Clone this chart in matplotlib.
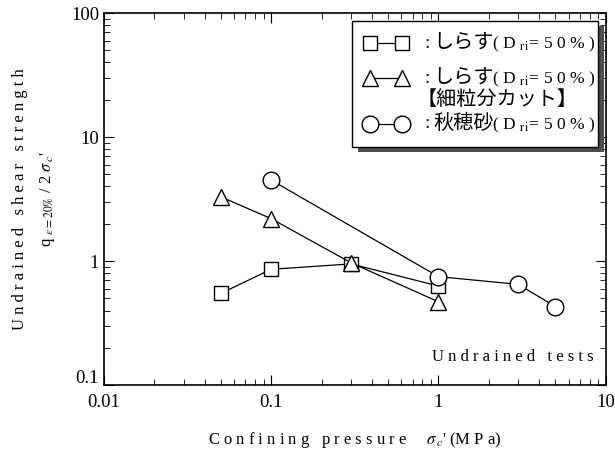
import matplotlib
matplotlib.use("Agg")
import matplotlib.pyplot as plt
import matplotlib.transforms as mtransforms
from matplotlib.patches import Rectangle
from matplotlib.ticker import LogLocator, NullFormatter, FixedLocator, FixedFormatter

plt.rcParams['font.family'] = ['Liberation Serif', 'Noto Sans CJK JP']
plt.rcParams['mathtext.fontset'] = 'stix'

# data
sq_x = [0.05, 0.1, 0.3, 1.0]
sq_y = [0.55, 0.86, 0.95, 0.63]
tri_x = [0.05, 0.1, 0.3, 1.0]
tri_y = [3.3, 2.2, 0.97, 0.47]
cir_x = [0.1, 1.0, 3.0, 5.0]
cir_y = [4.5, 0.75, 0.65, 0.43]

names = ["しらす", "しらす", "秋穂砂"]
note = "【細粒分カット】"
dr_text = r"( D $_{\mathrm{r\,i}}$= 5 0 % )"
xticks = [0.01, 0.1, 1, 10]
yticks = [0.1, 1, 10, 100]

fig = plt.figure(figsize=(6.15, 4.5), dpi=100)
ax = fig.add_axes([0.169, 0.144, 0.816, 0.827])

style = dict(color='black', lw=0.9, mfc='white', mec='black', mew=1.0)
l_sq, = ax.plot(sq_x, sq_y, marker='s', ms=10, **style)
l_tri, = ax.plot(tri_x, tri_y, marker='^', ms=11, **style)
l_cir, = ax.plot(cir_x, cir_y, marker='o', ms=12, **style)

ax.set_xscale('log')
ax.set_yscale('log')
ax.set_xlim(0.01, 10)
ax.set_ylim(0.1, 100)
ax.xaxis.set_major_locator(FixedLocator(xticks))
ax.xaxis.set_major_formatter(FixedFormatter([str(t) for t in xticks]))
ax.yaxis.set_major_locator(FixedLocator(yticks))
ax.yaxis.set_major_formatter(FixedFormatter([str(t) for t in yticks]))
for a in (ax.xaxis, ax.yaxis):
    a.set_minor_locator(LogLocator(base=10, subs=range(2, 10)))
    a.set_minor_formatter(NullFormatter())
ax.tick_params(which='both', direction='in', top=True, right=True, labelsize=13.5)
ax.tick_params(which='major', length=7)
ax.tick_params(which='minor', length=4)
ax.tick_params(axis='x', pad=6)
for s in ax.spines.values():
    s.set_linewidth(1.2)

# lift the bottom y label a little, as in the original
fig.canvas.draw()
lab = ax.yaxis.get_majorticklabels()[0]
lab.set_transform(lab.get_transform() +
                  mtransforms.ScaledTranslation(0, 6 / 72, fig.dpi_scale_trans))

ax.set_xlabel("C o n f i n i n g   p r e s s u r e     $\\sigma_{\\,c}$' (M P a)",
              fontsize=12, labelpad=14)
ax.set_ylabel("U n d r a i n e d   s h e a r   s t r e n g t h\n"
              "q $_{\\varepsilon=20\\%}$ / 2 $\\sigma_{\\,c}$'",
              fontsize=12, labelpad=10, linespacing=1.8)

ax.text(0.975, 0.075, "U n d r a i n e d   t e s t s", transform=ax.transAxes,
        ha='right', va='center', fontsize=12)

# legend box with dark shadow
bx0, bx1, by0, by1 = 0.494, 0.984, 0.640, 0.978
ax.add_patch(Rectangle((bx0 + 0.012, by0 - 0.014), bx1 - bx0, by1 - by0,
                       transform=ax.transAxes, facecolor='0.3', edgecolor='none',
                       zorder=5, clip_on=False))
ax.add_patch(Rectangle((bx0, by0), bx1 - bx0, by1 - by0, transform=ax.transAxes,
                       facecolor='white', edgecolor='black', lw=1.0, zorder=6,
                       clip_on=False))
rows = [0.919, 0.825, 0.702]
for line, name, ry in zip([l_sq, l_tri, l_cir], names, rows):
    ax.plot([0.530, 0.594], [ry, ry], transform=ax.transAxes, color='black', lw=0.9,
            marker=line.get_marker(), ms=line.get_markersize(), mfc='white',
            mec='black', mew=1.0, zorder=7, clip_on=False)
    ax.text(0.638, ry, ":", transform=ax.transAxes, ha='left', va='center',
            fontsize=14, zorder=7)
    ax.text(0.656, ry, name, transform=ax.transAxes, ha='left', va='center',
            fontsize=14.5, zorder=7)
    ax.text(0.773, ry - 0.004, dr_text, transform=ax.transAxes, ha='left',
            va='center', fontsize=12.5, zorder=7)
ax.text(0.622, 0.766, note, transform=ax.transAxes, ha='left', va='center',
        fontsize=14.5, zorder=7)

fig.savefig("out.png", dpi=100)
